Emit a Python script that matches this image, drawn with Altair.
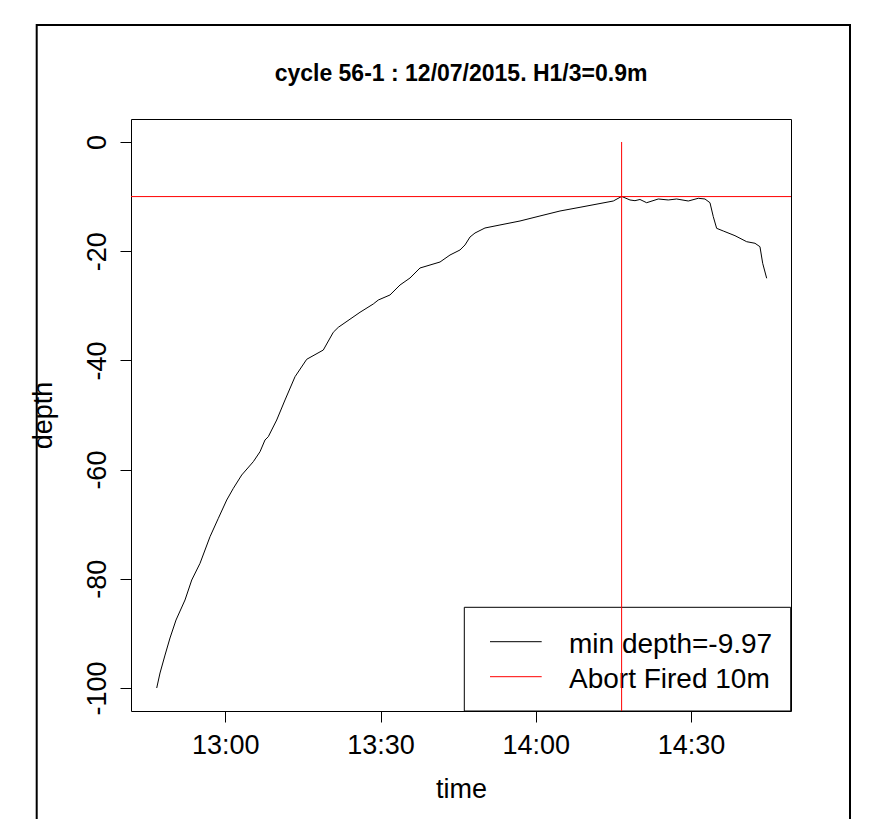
import altair as alt
import pandas as pd

# time in minutes since midnight (12/07/2015), depth in metres
time_min = [766.74, 767.38, 768.35, 769.31, 770.47, 772.21, 773.51, 775.11, 777.04, 778.65,
            780.27, 781.55, 783.17, 785.41, 786.71, 787.67, 788.31, 789.93, 791.54, 793.47,
            795.73, 798.94, 800.87, 801.84, 806.03, 808.60, 809.57, 811.83, 813.77, 815.70,
            817.63, 821.50, 823.43, 825.36, 826.33, 827.30, 828.26, 830.19, 833.09, 836.96,
            840.82, 844.69, 848.56, 854.99, 856.61, 858.22, 859.18, 860.15, 861.44, 863.69,
            865.62, 867.24, 869.49, 871.42, 872.71, 873.68, 874.32, 874.97, 876.25, 878.51,
            880.77, 882.38, 883.34, 883.87, 884.64]
depth = [-100.0, -97.25, -93.96, -90.84, -87.55, -83.88, -80.22, -77.16, -72.29, -68.92,
         -65.57, -63.43, -60.99, -58.55, -56.72, -54.58, -53.97, -50.92, -47.25, -42.99,
         -39.80, -38.10, -34.85, -33.94, -31.19, -29.67, -28.94, -28.02, -26.19, -24.91,
         -23.08, -21.98, -20.70, -19.78, -18.86, -17.40, -16.67, -15.75, -15.20, -14.47,
         -13.55, -12.64, -11.96, -10.81, -9.97, -10.62, -10.75, -10.53, -11.12, -10.44,
         -10.62, -10.44, -10.81, -10.31, -10.44, -11.12, -13.68, -15.81, -16.30, -17.16,
         -18.26, -18.55, -19.18, -22.22, -24.96]

abort_depth = -10
abort_time = 856.6
series_names = ["min depth=-9.97", "Abort Fired 10m"]
series_colors = ["black", "red"]
x_ticks = [780, 810, 840, 870]
y_ticks = [0, -20, -40, -60, -80, -100]
x_domain = [761.77, 889.34]
y_domain = [-104.21, 4.21]
title_text = "cycle 56-1 : 12/07/2015. H1/3=0.9m"

FONT = "Liberation Sans"
df = pd.DataFrame({"time": time_min, "depth": depth, "series": series_names[0]})
hdf = pd.DataFrame({"depth": [abort_depth], "series": [series_names[1]]})
vdf = pd.DataFrame({"time": [abort_time], "top": [0], "bottom": [y_domain[0]],
                    "series": [series_names[1]]})
tdf = pd.DataFrame({"title": [title_text]})

xs = alt.Scale(domain=x_domain, nice=False, zero=False)
ys = alt.Scale(domain=y_domain, nice=False, zero=False)
cs = alt.Scale(domain=series_names, range=series_colors)

x_axis = alt.Axis(values=x_ticks, title="time", grid=False, domain=False,
                  tickColor="black", tickSize=11, labelFontSize=27, labelFont=FONT,
                  labelColor="black", labelPadding=10, labelFlush=False,
                  labelExpr="floor(datum.value/60) + ':' + (datum.value % 60 == 0 ? '00' : '30')",
                  titleFont=FONT, titleFontSize=27, titleFontWeight="normal",
                  titleColor="black", titleBaseline="alphabetic", titleY=86)
y_axis = alt.Axis(values=y_ticks, title="depth", grid=False, domain=False,
                  tickColor="black", tickSize=11, labelFontSize=27, labelFont=FONT,
                  labelColor="black", labelAngle=270, labelAlign="center",
                  labelBaseline="alphabetic", labelPadding=15, labelFlush=False,
                  labelExpr="toString(datum.value)",
                  titleFont=FONT, titleFontSize=27, titleFontWeight="normal",
                  titleColor="black", titleAngle=270, titleBaseline="alphabetic",
                  titleX=-80)

color = alt.Color("series:N", scale=cs, legend=None)

line = alt.Chart(df).mark_line(strokeWidth=1).encode(
    x=alt.X("time:Q", scale=xs, axis=x_axis),
    y=alt.Y("depth:Q", scale=ys, axis=y_axis),
    color=color,
)

hline = alt.Chart(hdf).mark_rule(strokeWidth=1).encode(
    y=alt.Y("depth:Q"),
    color=color,
)

vline = alt.Chart(vdf).mark_rule(strokeWidth=1).encode(
    x=alt.X("time:Q"),
    y=alt.Y("top:Q"),
    y2=alt.Y2("bottom:Q"),
    color=color,
)

frame = alt.Chart(alt.Data(values=[{}])).mark_rect(fill=None, stroke="black", strokeWidth=2).encode(
    x=alt.value(-94.3), x2=alt.value(719), y=alt.value(-94), y2=alt.value(720)
)

title = alt.Chart(tdf).mark_text(font=FONT, fontSize=23, fontWeight="bold", color="black",
                                 align="center", baseline="alphabetic").encode(
    x=alt.value(330), y=alt.value(-38), text="title:N"
)

# hand-built legend box (bottom-right, like R's legend())
legend_layers = [
    alt.Chart(alt.Data(values=[{}])).mark_rect(fill=None, stroke="black", strokeWidth=1).encode(
        x=alt.value(333.3), x2=alt.value(659.7), y=alt.value(488.3), y2=alt.value(592)
    )
]
for i, (name, col) in enumerate(zip(series_names, series_colors)):
    ldf = pd.DataFrame({"series": [name]})
    legend_layers.append(
        alt.Chart(ldf).mark_rule(strokeWidth=1).encode(
            x=alt.value(359), x2=alt.value(410.7), y=alt.value(522.7 + 35 * i), color=color
        )
    )
    legend_layers.append(
        alt.Chart(ldf).mark_text(font=FONT, fontSize=28, color="black", align="left",
                                 baseline="alphabetic").encode(
            x=alt.value(438), y=alt.value(534.3 + 35 * i), text="series:N"
        )
    )

chart = alt.layer(frame, title, line, *legend_layers, hline, vline).properties(
    width=660, height=592,
    autosize=alt.AutoSizeParams(type="none"),
    padding={"left": 123, "top": 111, "right": 79, "bottom": 108},
).configure(background="white", view=alt.ViewConfig(stroke="black", strokeWidth=1))

chart.save("out.html", embed_options={"renderer": "svg", "actions": False})
